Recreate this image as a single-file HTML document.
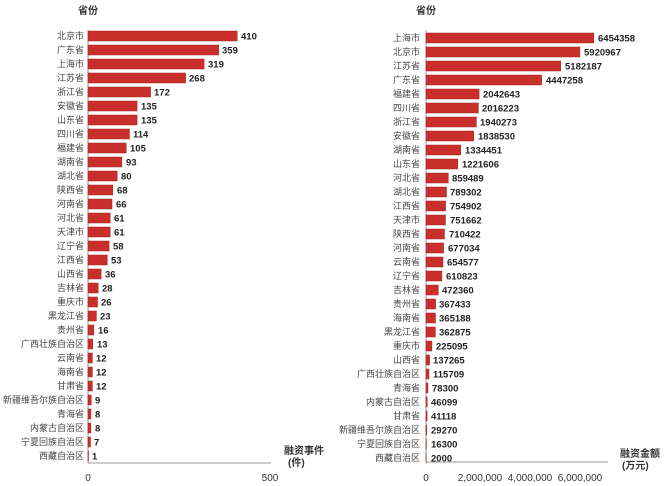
<!DOCTYPE html>
<html><head><meta charset="utf-8"><style>
html,body{margin:0;padding:0;background:#fff;}
svg{display:block;font-family:"Liberation Sans","Noto Sans CJK SC",sans-serif;}
.l{font-size:9px;fill:#444;text-anchor:end;}
.v{font-size:9.5px;fill:#222;font-weight:bold;}
.b{fill:#c9302c;stroke:#a82222;stroke-width:0.5;}
.t{font-size:10px;fill:#333;font-weight:bold;}
</style></head><body>
<svg width="666" height="486" viewBox="0 0 666 486">
<text x="78" y="14" class="t">省份</text>
<text x="416" y="14" class="t">省份</text>
<!-- left axes -->
<line x1="88" y1="30" x2="88" y2="463" stroke="#999" stroke-width="1"/>
<line x1="88" y1="463" x2="271" y2="463" stroke="#999" stroke-width="1"/>
<text x="88" y="481" font-size="10" fill="#333" text-anchor="middle">0</text>
<text x="270" y="481" font-size="10" fill="#333" text-anchor="middle">500</text>
<text x="284" y="454" class="t" font-size="9">融资事件</text>
<text x="288" y="466" class="t" font-size="9">(件)</text>
<!-- right axes -->
<line x1="426" y1="30" x2="426" y2="462" stroke="#999" stroke-width="1"/>
<line x1="426" y1="462" x2="608" y2="462" stroke="#999" stroke-width="1"/>
<text x="426" y="481" font-size="10" fill="#333" text-anchor="middle">0</text>
<text x="480" y="481" font-size="10" fill="#333" text-anchor="middle">2,000,000</text>
<text x="530" y="481" font-size="10" fill="#333" text-anchor="middle">4,000,000</text>
<text x="580" y="481" font-size="10" fill="#333" text-anchor="middle">6,000,000</text>
<text x="620" y="457" class="t" font-size="9">融资金额</text>
<text x="622" y="469" class="t" font-size="9">(万元)</text>

<g transform="translate(0,36)"><rect class="b" x="88" y="-5" width="149.2" height="10"/><text class="l" x="84" y="3">北京市</text><text class="v" x="241" y="3.5">410</text></g>
<g transform="translate(0,50)"><rect class="b" x="88" y="-5" width="130.7" height="10"/><text class="l" x="84" y="3">广东省</text><text class="v" x="222" y="3.5">359</text></g>
<g transform="translate(0,64)"><rect class="b" x="88" y="-5" width="116.1" height="10"/><text class="l" x="84" y="3">上海市</text><text class="v" x="208" y="3.5">319</text></g>
<g transform="translate(0,78)"><rect class="b" x="88" y="-5" width="97.6" height="10"/><text class="l" x="84" y="3">江苏省</text><text class="v" x="189" y="3.5">268</text></g>
<g transform="translate(0,92)"><rect class="b" x="88" y="-5" width="62.6" height="10"/><text class="l" x="84" y="3">浙江省</text><text class="v" x="154" y="3.5">172</text></g>
<g transform="translate(0,106)"><rect class="b" x="88" y="-5" width="49.1" height="10"/><text class="l" x="84" y="3">安徽省</text><text class="v" x="141" y="3.5">135</text></g>
<g transform="translate(0,120)"><rect class="b" x="88" y="-5" width="49.1" height="10"/><text class="l" x="84" y="3">山东省</text><text class="v" x="141" y="3.5">135</text></g>
<g transform="translate(0,134)"><rect class="b" x="88" y="-5" width="41.5" height="10"/><text class="l" x="84" y="3">四川省</text><text class="v" x="133" y="3.5">114</text></g>
<g transform="translate(0,148)"><rect class="b" x="88" y="-5" width="38.2" height="10"/><text class="l" x="84" y="3">福建省</text><text class="v" x="130" y="3.5">105</text></g>
<g transform="translate(0,162)"><rect class="b" x="88" y="-5" width="33.9" height="10"/><text class="l" x="84" y="3">湖南省</text><text class="v" x="126" y="3.5">93</text></g>
<g transform="translate(0,176)"><rect class="b" x="88" y="-5" width="29.1" height="10"/><text class="l" x="84" y="3">湖北省</text><text class="v" x="121" y="3.5">80</text></g>
<g transform="translate(0,190)"><rect class="b" x="88" y="-5" width="24.8" height="10"/><text class="l" x="84" y="3">陕西省</text><text class="v" x="117" y="3.5">68</text></g>
<g transform="translate(0,204)"><rect class="b" x="88" y="-5" width="24.0" height="10"/><text class="l" x="84" y="3">河南省</text><text class="v" x="116" y="3.5">66</text></g>
<g transform="translate(0,218)"><rect class="b" x="88" y="-5" width="22.2" height="10"/><text class="l" x="84" y="3">河北省</text><text class="v" x="114" y="3.5">61</text></g>
<g transform="translate(0,232)"><rect class="b" x="88" y="-5" width="22.2" height="10"/><text class="l" x="84" y="3">天津市</text><text class="v" x="114" y="3.5">61</text></g>
<g transform="translate(0,246)"><rect class="b" x="88" y="-5" width="21.1" height="10"/><text class="l" x="84" y="3">辽宁省</text><text class="v" x="113" y="3.5">58</text></g>
<g transform="translate(0,260)"><rect class="b" x="88" y="-5" width="19.3" height="10"/><text class="l" x="84" y="3">江西省</text><text class="v" x="111" y="3.5">53</text></g>
<g transform="translate(0,274)"><rect class="b" x="88" y="-5" width="13.1" height="10"/><text class="l" x="84" y="3">山西省</text><text class="v" x="105" y="3.5">36</text></g>
<g transform="translate(0,288)"><rect class="b" x="88" y="-5" width="10.2" height="10"/><text class="l" x="84" y="3">吉林省</text><text class="v" x="102" y="3.5">28</text></g>
<g transform="translate(0,302)"><rect class="b" x="88" y="-5" width="9.5" height="10"/><text class="l" x="84" y="3">重庆市</text><text class="v" x="101" y="3.5">26</text></g>
<g transform="translate(0,316)"><rect class="b" x="88" y="-5" width="8.4" height="10"/><text class="l" x="84" y="3">黑龙江省</text><text class="v" x="100" y="3.5">23</text></g>
<g transform="translate(0,330)"><rect class="b" x="88" y="-5" width="5.8" height="10"/><text class="l" x="84" y="3">贵州省</text><text class="v" x="98" y="3.5">16</text></g>
<g transform="translate(0,344)"><rect class="b" x="88" y="-5" width="4.7" height="10"/><text class="l" x="84" y="3">广西壮族自治区</text><text class="v" x="97" y="3.5">13</text></g>
<g transform="translate(0,358)"><rect class="b" x="88" y="-5" width="4.4" height="10"/><text class="l" x="84" y="3">云南省</text><text class="v" x="96" y="3.5">12</text></g>
<g transform="translate(0,372)"><rect class="b" x="88" y="-5" width="4.4" height="10"/><text class="l" x="84" y="3">海南省</text><text class="v" x="96" y="3.5">12</text></g>
<g transform="translate(0,386)"><rect class="b" x="88" y="-5" width="4.4" height="10"/><text class="l" x="84" y="3">甘肃省</text><text class="v" x="96" y="3.5">12</text></g>
<g transform="translate(0,400)"><rect class="b" x="88" y="-5" width="3.3" height="10"/><text class="l" x="84" y="3">新疆维吾尔族自治区</text><text class="v" x="95" y="3.5">9</text></g>
<g transform="translate(0,414)"><rect class="b" x="88" y="-5" width="2.9" height="10"/><text class="l" x="84" y="3">青海省</text><text class="v" x="95" y="3.5">8</text></g>
<g transform="translate(0,428)"><rect class="b" x="88" y="-5" width="2.9" height="10"/><text class="l" x="84" y="3">内蒙古自治区</text><text class="v" x="95" y="3.5">8</text></g>
<g transform="translate(0,442)"><rect class="b" x="88" y="-5" width="2.5" height="10"/><text class="l" x="84" y="3">宁夏回族自治区</text><text class="v" x="94" y="3.5">7</text></g>
<g transform="translate(0,456)"><rect class="b" x="88" y="-5" width="0.5" height="10"/><text class="l" x="84" y="3">西藏自治区</text><text class="v" x="92" y="3.5">1</text></g>

<g transform="translate(0,38)"><rect class="b" x="426" y="-5" width="167.8" height="10"/><text class="l" x="420" y="3">上海市</text><text class="v" x="598" y="3.5">6454358</text></g>
<g transform="translate(0,52)"><rect class="b" x="426" y="-5" width="153.9" height="10"/><text class="l" x="420" y="3">北京市</text><text class="v" x="584" y="3.5">5920967</text></g>
<g transform="translate(0,66)"><rect class="b" x="426" y="-5" width="134.7" height="10"/><text class="l" x="420" y="3">江苏省</text><text class="v" x="565" y="3.5">5182187</text></g>
<g transform="translate(0,80)"><rect class="b" x="426" y="-5" width="115.6" height="10"/><text class="l" x="420" y="3">广东省</text><text class="v" x="546" y="3.5">4447258</text></g>
<g transform="translate(0,94)"><rect class="b" x="426" y="-5" width="53.1" height="10"/><text class="l" x="420" y="3">福建省</text><text class="v" x="483" y="3.5">2042643</text></g>
<g transform="translate(0,108)"><rect class="b" x="426" y="-5" width="52.4" height="10"/><text class="l" x="420" y="3">四川省</text><text class="v" x="482" y="3.5">2016223</text></g>
<g transform="translate(0,122)"><rect class="b" x="426" y="-5" width="50.4" height="10"/><text class="l" x="420" y="3">浙江省</text><text class="v" x="480" y="3.5">1940273</text></g>
<g transform="translate(0,136)"><rect class="b" x="426" y="-5" width="47.8" height="10"/><text class="l" x="420" y="3">安徽省</text><text class="v" x="478" y="3.5">1838530</text></g>
<g transform="translate(0,150)"><rect class="b" x="426" y="-5" width="34.7" height="10"/><text class="l" x="420" y="3">湖南省</text><text class="v" x="465" y="3.5">1334451</text></g>
<g transform="translate(0,164)"><rect class="b" x="426" y="-5" width="31.8" height="10"/><text class="l" x="420" y="3">山东省</text><text class="v" x="462" y="3.5">1221606</text></g>
<g transform="translate(0,178)"><rect class="b" x="426" y="-5" width="22.3" height="10"/><text class="l" x="420" y="3">河北省</text><text class="v" x="452" y="3.5">859489</text></g>
<g transform="translate(0,192)"><rect class="b" x="426" y="-5" width="20.5" height="10"/><text class="l" x="420" y="3">湖北省</text><text class="v" x="450" y="3.5">789302</text></g>
<g transform="translate(0,206)"><rect class="b" x="426" y="-5" width="19.6" height="10"/><text class="l" x="420" y="3">江西省</text><text class="v" x="450" y="3.5">754902</text></g>
<g transform="translate(0,220)"><rect class="b" x="426" y="-5" width="19.5" height="10"/><text class="l" x="420" y="3">天津市</text><text class="v" x="450" y="3.5">751662</text></g>
<g transform="translate(0,234)"><rect class="b" x="426" y="-5" width="18.5" height="10"/><text class="l" x="420" y="3">陕西省</text><text class="v" x="449" y="3.5">710422</text></g>
<g transform="translate(0,248)"><rect class="b" x="426" y="-5" width="17.6" height="10"/><text class="l" x="420" y="3">河南省</text><text class="v" x="448" y="3.5">677034</text></g>
<g transform="translate(0,262)"><rect class="b" x="426" y="-5" width="17.0" height="10"/><text class="l" x="420" y="3">云南省</text><text class="v" x="447" y="3.5">654577</text></g>
<g transform="translate(0,276)"><rect class="b" x="426" y="-5" width="15.9" height="10"/><text class="l" x="420" y="3">辽宁省</text><text class="v" x="446" y="3.5">610823</text></g>
<g transform="translate(0,290)"><rect class="b" x="426" y="-5" width="12.3" height="10"/><text class="l" x="420" y="3">吉林省</text><text class="v" x="442" y="3.5">472360</text></g>
<g transform="translate(0,304)"><rect class="b" x="426" y="-5" width="9.6" height="10"/><text class="l" x="420" y="3">贵州省</text><text class="v" x="439" y="3.5">367433</text></g>
<g transform="translate(0,318)"><rect class="b" x="426" y="-5" width="9.5" height="10"/><text class="l" x="420" y="3">海南省</text><text class="v" x="439" y="3.5">365188</text></g>
<g transform="translate(0,332)"><rect class="b" x="426" y="-5" width="9.4" height="10"/><text class="l" x="420" y="3">黑龙江省</text><text class="v" x="439" y="3.5">362875</text></g>
<g transform="translate(0,346)"><rect class="b" x="426" y="-5" width="5.9" height="10"/><text class="l" x="420" y="3">重庆市</text><text class="v" x="436" y="3.5">225095</text></g>
<g transform="translate(0,360)"><rect class="b" x="426" y="-5" width="3.6" height="10"/><text class="l" x="420" y="3">山西省</text><text class="v" x="433" y="3.5">137265</text></g>
<g transform="translate(0,374)"><rect class="b" x="426" y="-5" width="3.0" height="10"/><text class="l" x="420" y="3">广西壮族自治区</text><text class="v" x="433" y="3.5">115709</text></g>
<g transform="translate(0,388)"><rect class="b" x="426" y="-5" width="2.0" height="10"/><text class="l" x="420" y="3">青海省</text><text class="v" x="432" y="3.5">78300</text></g>
<g transform="translate(0,402)"><rect class="b" x="426" y="-5" width="1.2" height="10"/><text class="l" x="420" y="3">内蒙古自治区</text><text class="v" x="431" y="3.5">46099</text></g>
<g transform="translate(0,416)"><rect class="b" x="426" y="-5" width="1.1" height="10"/><text class="l" x="420" y="3">甘肃省</text><text class="v" x="431" y="3.5">41118</text></g>
<g transform="translate(0,430)"><rect class="b" x="426" y="-5" width="0.8" height="10"/><text class="l" x="420" y="3">新疆维吾尔族自治区</text><text class="v" x="431" y="3.5">29270</text></g>
<g transform="translate(0,444)"><rect class="b" x="426" y="-5" width="0.4" height="10"/><text class="l" x="420" y="3">宁夏回族自治区</text><text class="v" x="431" y="3.5">16300</text></g>
<g transform="translate(0,458)"><rect class="b" x="426" y="-5" width="0.2" height="10"/><text class="l" x="420" y="3">西藏自治区</text><text class="v" x="431" y="3.5">2000</text></g>
</svg>
</body></html>
